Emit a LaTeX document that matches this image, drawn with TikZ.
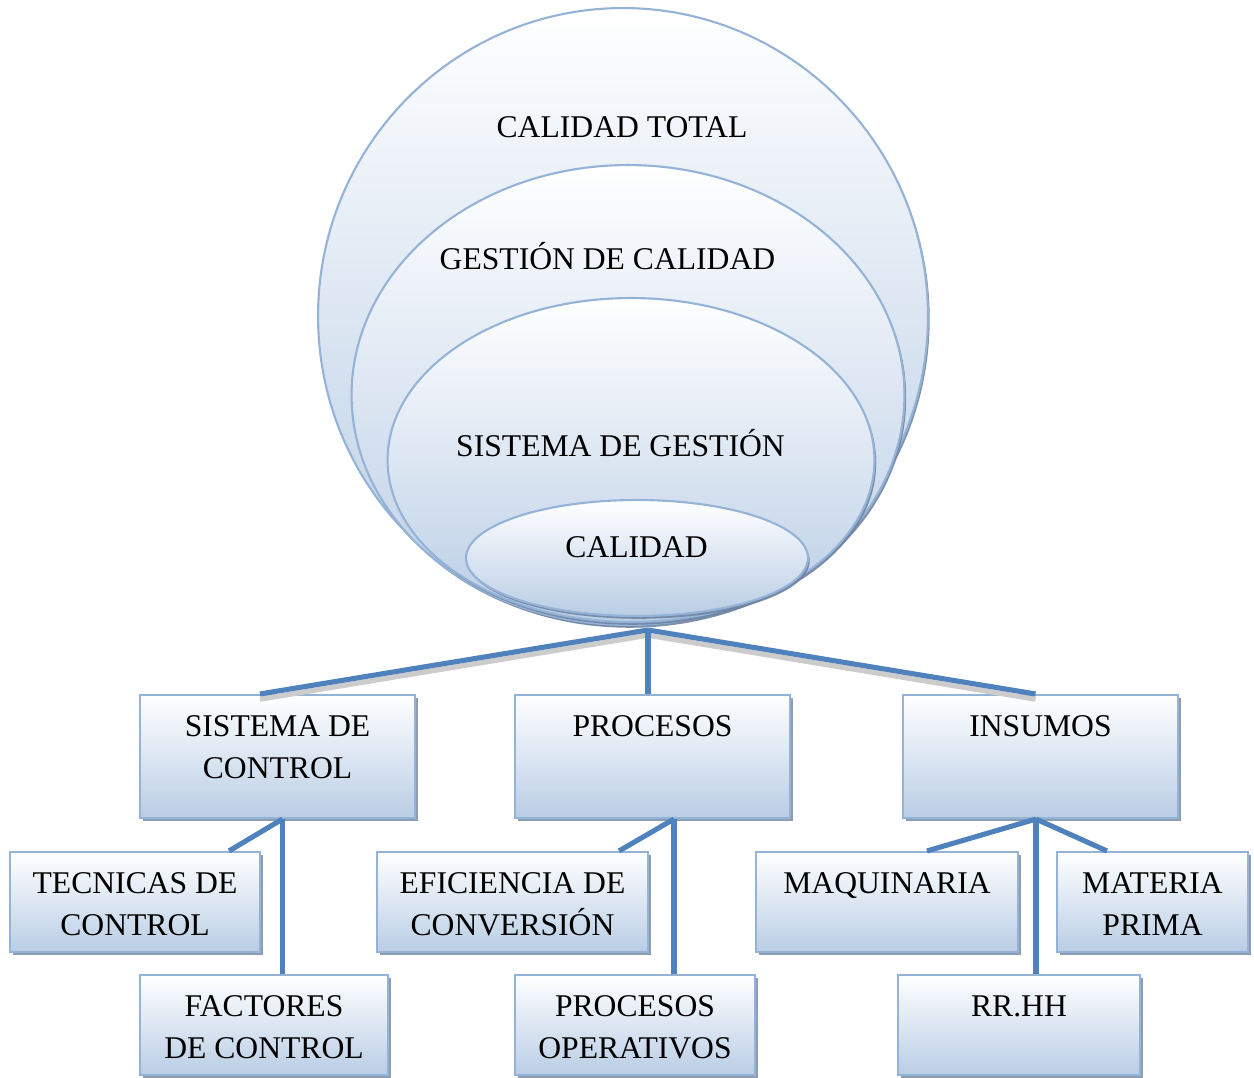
\documentclass[tikz,border=0pt]{standalone}
\usepackage{fontspec}
\setmainfont{Liberation Serif}
\usetikzlibrary{shapes.geometric, shadows, positioning}

\definecolor{rimblue}{RGB}{149,179,215}
\definecolor{fillblue}{RGB}{185,205,229}
\definecolor{linkblue}{RGB}{79,129,189}
\definecolor{rimshadow}{RGB}{110,132,162}
\definecolor{boxshadow}{RGB}{141,158,178}

\def\boxheight{2.0cm}
\tikzstyle{shell}=[ellipse, draw=rimblue, line width=1.2pt, inner sep=0pt, top color=white, bottom color=fillblue, drop shadow={shadow xshift=1pt, shadow yshift=-1.6pt, fill=rimshadow, opacity=0.9}]
\tikzstyle{box}=[rectangle, draw=rimblue, line width=1.2pt, inner sep=0pt, top color=white, bottom color=fillblue, drop shadow={shadow xshift=1.8pt, shadow yshift=-1.8pt, fill=boxshadow, opacity=1}]
\tikzstyle{boxtext}=[anchor=north, align=center, inner xsep=0pt, inner ysep=12pt]
\tikzstyle{link}=[linkblue, line width=2.9pt]
\tikzstyle{linkshadow}=[gray!40, line width=2.9pt]

\begin{document}
\begin{tikzpicture}[x=0.02cm, y=-0.02cm, font=\fontsize{18}{24}\selectfont]
  \useasboundingbox (0,0) rectangle (1254,1078);

  % nested ellipses
  \node [shell, minimum width=12.2cm, minimum height=12.32cm] (ct) at (623,316) {};
  \node [shell, minimum width=11.06cm, minimum height=9.2cm] (gc) at (628,395) {};
  \node [shell, minimum width=9.74cm, minimum height=6.48cm] (sg) at (631,460) {};
  \node [shell, minimum width=6.84cm, minimum height=2.32cm] (cal) at (637,558) {};

  % ellipse texts
  \node [anchor=base] (ct-t) at (622,137) {CALIDAD TOTAL};
  \node [anchor=base] (gc-t) at (607.5,269) {GESTIÓN DE CALIDAD};
  \node [anchor=base] (sg-t) at (620.5,456) {SISTEMA DE GESTIÓN};
  \node [anchor=base] (cal-t) at (636.5,557) {CALIDAD};

  % first level boxes
  \foreach \name/\pos/\txt in {sc/{277.5,756.5}/{SISTEMA DE\\CONTROL}, pr/{652.5,756.5}/PROCESOS, ins/{1040.5,756.5}/INSUMOS}
    \node [box, minimum width=5.5cm, minimum height=2.46cm, label={[boxtext]north:\txt}] (\name) at (\pos) {};

  % second level boxes
  \foreach \name/\pos/\w/\txt in {tc/{135,902}/5.0cm/{TECNICAS DE\\CONTROL}, fc/{264,1025}/4.96cm/{FACTORES\\DE CONTROL}, ec/{512.5,902}/5.42cm/{EFICIENCIA DE\\CONVERSIÓN}, po/{635,1025}/4.8cm/{PROCESOS\\OPERATIVOS}, mq/{887,902}/5.24cm/MAQUINARIA, mp/{1152.5,902}/3.82cm/{MATERIA\\PRIMA}, rh/{1019,1025}/4.84cm/RR.HH}
    \node [box, minimum width=\w, minimum height=\boxheight, label={[boxtext]north:\txt}] (\name) at (\pos) {};

  % ellipse-box connections
  \coordinate (hub) at (648,630);
  \draw [linkshadow] ([yshift=-3pt]hub) -- ([xshift=-0.35cm, yshift=-3pt]sc.north);
  \draw [linkshadow] ([yshift=-3pt]hub) -- ([xshift=-0.1cm, yshift=-3pt]ins.north);
  \draw [link] (hub) -- ([xshift=-0.35cm]sc.north);
  \draw [link] (hub) -- ([xshift=-0.1cm]ins.north);
  \draw [link] (hub) -- (hub |- pr.north);

  % box-box connections
  \coordinate (sc-j) at ([xshift=0.1cm]sc.south);
  \draw [link] (sc-j) -- ([xshift=-0.64cm]tc.north east);
  \draw [link] (sc-j) -- (sc-j |- fc.north);

  \coordinate (pr-j) at ([xshift=0.43cm]pr.south);
  \draw [link] (pr-j) -- ([xshift=-0.6cm]ec.north east);
  \draw [link] (pr-j) -- (pr-j |- po.north);

  \coordinate (ins-j) at ([xshift=-0.09cm]ins.south);
  \draw [link] (ins-j) -- ([xshift=0.8cm]mq.north);
  \draw [link] (ins-j) -- ([xshift=1.02cm]mp.north west);
  \draw [link] (ins-j) -- (ins-j |- rh.north);
\end{tikzpicture}
\end{document}
